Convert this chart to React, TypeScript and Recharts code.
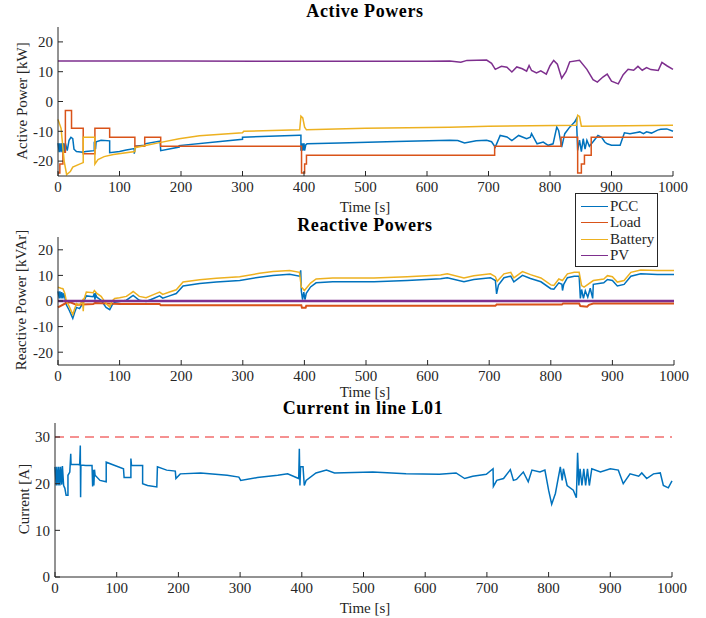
import { LineChart, Line, XAxis, YAxis, ReferenceLine } from 'recharts';

type Pt = [number, number];

const timeTicks = [0, 100, 200, 300, 400, 500, 600, 700, 800, 900, 1000];
const powerTicks = [-20, -10, 0, 10, 20];
const currentTicks = [0, 10, 20, 30];
const currentLimit = 30;

// Active powers [kW]
const pccP: Pt[] = [
  [0, -14], [2, -17], [3, -14], [5, -17], [6, -14], [8, -17], [9, -14], [11, -17], [12, -14], [15, -16.5],
  [18, -13], [21, -12], [24, -12.5], [26, -16], [30, -16.8], [40, -17], [45, -16.8], [59, -16.5], [59, -13.5],
  [61, -16], [62, -13.5], [70, -13], [84, -13.2], [84, -17.2], [100, -16.8], [111, -16.3], [124, -15.8],
  [124, -17.5], [126, -15], [141, -14.7], [141, -14.2], [166, -13.3], [167, -16.5], [197, -15.3], [197, -14.8],
  [300, -12.7], [300, -12], [393, -11.3], [395, -11.3], [395, -16.5], [397, -14], [398, -16.5], [400, -14],
  [401, -16.5], [403, -14.5], [405, -14.2], [458, -13.9], [550, -13.4], [637, -13], [650, -13.1], [661, -13.9],
  [680, -13.2], [697, -13], [705, -13.5], [711, -15.3], [719, -11.4], [730, -11.9], [738, -13.1], [749, -11.4],
  [762, -12.5], [768, -12], [770, -10.8], [779, -14.2], [789, -13.6], [797, -14.7], [805, -14.2], [811, -8.6],
  [814, -9.7], [819, -15.3], [824, -10.8], [832, -8.6], [840, -6.9], [843, -5.8], [845, -16.4], [848, -13],
  [851, -16.8], [854, -12.5], [857, -16], [860, -13], [864, -15], [870, -13.5], [878, -11.4], [884, -12],
  [889, -13.6], [893, -14.2], [900, -14.7], [914, -14.7], [921, -10.5], [930, -10.8], [941, -10.4], [946, -10.2],
  [952, -10.8], [957, -10.2], [965, -10.6], [975, -9.6], [980, -9.3], [990, -9.2], [1000, -10],
];

const loadP: Pt[] = [
  [0, -24], [3, -24], [3, -21], [8, -21], [8, -17], [12, -17], [12, -3], [22, -3], [22, -9], [41, -9],
  [41, -17.5], [60, -17.5], [60, -9], [84, -9], [84, -12], [125, -12], [125, -15], [141, -15], [141, -12],
  [167, -12], [167, -15], [396, -15], [396, -24], [401, -24], [401, -21], [404, -21], [404, -18], [710, -18],
  [710, -15], [818, -15], [818, -12], [845, -12], [845, -24], [851, -24], [851, -21], [856, -21], [856, -18],
  [867, -18], [867, -12], [1000, -12],
];

const batteryP: Pt[] = [
  [0, -6], [5, -9], [10, -20], [14, -24.5], [20, -23.5], [24, -22], [35, -21], [41, -20.5], [41, -12], [60, -12],
  [60, -21], [65, -19.5], [75, -18.5], [90, -17.8], [125, -16.8], [125, -15.5], [165, -13.8], [197, -12.5],
  [230, -11.5], [300, -10.5], [302, -10], [393, -9.5], [395, -4.9], [398, -5.5], [401, -8.6], [404, -9.5],
  [500, -9], [637, -8.6], [700, -8.3], [843, -8], [845, -4.6], [848, -5], [851, -8.3], [1000, -8],
];

const pvP: Pt[] = [
  [0, 13.6], [200, 13.6], [400, 13.5], [600, 13.5], [637, 13.6], [655, 13.2], [665, 13.8], [697, 13.9],
  [705, 12.8], [711, 10.8], [721, 11.8], [730, 11.5], [738, 9.9], [746, 11.6], [755, 11], [762, 10.2],
  [766, 12.1], [770, 10.4], [778, 9.6], [785, 10.3], [794, 9.2], [800, 12], [806, 13.8], [812, 12.5],
  [819, 7.8], [826, 10], [832, 13.3], [848, 13.8], [860, 10.8], [870, 7.3], [877, 6.5], [886, 8.2], [893, 9.2],
  [900, 6.8], [911, 5.9], [919, 9], [927, 10.8], [936, 10.5], [943, 11.8], [950, 10.5], [957, 11.4], [964, 10.7],
  [976, 10.4], [982, 13.1], [990, 12], [1000, 10.8],
];

// Reactive powers [kVAr]
const pccQ: Pt[] = [
  [0, 3.8], [2, 1], [3, 3.8], [5, 1], [6, 3.5], [8, 1], [9, 3], [11, 1.5], [13.5, -1.5], [18, -3.5], [24, -6.8],
  [27, -4.5], [30, -2.5], [35, -3], [40, -1], [46, 2], [57, 1.7], [59, 3], [60, 0.5], [61, 2.6], [63, 1.5],
  [70, 0.3], [78, -2.5], [84, -3.4], [88, -1.5], [92, -0.5], [100, -0.2], [111, 0.3], [118, 1.5], [122, 2.2],
  [132, 0.3], [143, -0.2], [155, 1], [165, 2], [170, 1.1], [181, 2], [192, 2.9], [203, 5.9], [230, 6.8],
  [257, 7.4], [295, 8], [327, 9.3], [349, 10], [376, 10.4], [392, 9.7], [394, 12], [395, 3.9], [397, 0.5],
  [399, 3.5], [401, 0.5], [403, 3], [410, 5.5], [419, 7.1], [446, 7.5], [513, 7.5], [567, 8], [621, 8.7],
  [632, 9.1], [659, 7.5], [675, 8.4], [702, 9.1], [710, 8], [712, 2.8], [715, 6.2], [724, 9.1], [735, 9.7],
  [740, 7.5], [754, 10], [767, 8.8], [784, 7.5], [800, 4.8], [805, 4.6], [813, 7.1], [818, 6.5], [819, 4.1],
  [821, 6.5], [827, 9.1], [838, 9.7], [846, 9.7], [848, 1], [850, 4.5], [853, 1], [856, 4], [860, 1.5],
  [864, 5], [868, 1], [869, 6.5], [886, 7.1], [892, 8.4], [900, 8], [908, 5.9], [919, 6.5], [930, 9.7],
  [946, 10.6], [973, 10.4], [1000, 10.4],
];

const loadQ: Pt[] = [
  [0, -2.5], [13, -0.8], [20, -0.5], [30, -1.5], [57, -1.2], [60, -0.8], [100, -1.2], [165, -1.2], [167, -1.7],
  [395, -1.7], [396, -2.6], [402, -2.6], [403, -1.9], [710, -1.9], [712, -1.4], [818, -1.4], [820, -1],
  [846, -1], [848, -2], [859, -2.2], [862, -1.5], [869, -1], [1000, -1],
];

const batteryQ: Pt[] = [
  [0, 5.4], [5, 5], [8, 4.8], [11, 3], [13.5, 0], [18, -2], [24, -5.3], [27, -3], [30, -1], [35, -1.6],
  [40, 0.3], [41, -4], [42, 0.5], [46, 3.5], [57, 3.2], [59, 4.1], [63, 3], [70, 1.8], [78, -1], [84, -2.3],
  [88, 0], [92, 1], [100, 1.3], [111, 1.8], [118, 3], [122, 3.7], [132, 1.8], [143, 1.3], [155, 2.5],
  [165, 3.5], [170, 2.6], [181, 3.5], [192, 4.4], [203, 7.4], [230, 8.3], [257, 8.9], [295, 9.5], [327, 10.8],
  [349, 11.5], [376, 11.9], [392, 11.2], [395, 5.4], [397, 5], [400, 4.1], [410, 7], [419, 8.6], [446, 9],
  [513, 9], [567, 9.5], [621, 10.2], [632, 10.6], [659, 9], [675, 9.9], [702, 10.6], [710, 9.5], [713, 7.7],
  [724, 10.6], [735, 11.2], [740, 9], [754, 11.5], [767, 10.3], [784, 9], [800, 6.3], [805, 6.1], [813, 8.6],
  [819, 8], [827, 10.6], [838, 11.2], [846, 11.2], [850, 6], [854, 5.4], [869, 8], [886, 8.6], [892, 9.9],
  [900, 9.5], [908, 7.4], [919, 8], [930, 11.2], [946, 12.1], [973, 11.9], [1000, 11.9],
];

const pvQ: Pt[] = [[0, 0], [250, 0], [500, 0], [750, 0], [1000, 0]];

// Current in line L01 [A]
const lineCurrent: Pt[] = [
  [0, 23.6], [2, 19.6], [3, 23.6], [5, 19.6], [6, 23.6], [8, 19.6], [9, 23.6], [11, 19.8], [12, 23.8],
  [14, 19.6], [16, 19], [18, 17.5], [21, 17.5], [21, 21.8], [24, 22.5], [25.5, 26.4], [26, 24.1], [38, 24.1],
  [40, 24], [41, 28.2], [41.5, 17.1], [42, 24], [50, 23.9], [60, 23.9], [61, 19.4], [62, 23], [63, 19.6],
  [64, 23], [65, 21.8], [73, 20.7], [83, 20.4], [83, 24.6], [97, 23.9], [111, 23.2], [112, 21.3], [123, 21.3],
  [123, 25.4], [124, 23.9], [142, 23.9], [142, 20], [150, 19.6], [165, 19.3], [166, 23.6], [181, 22.9],
  [195, 22.7], [196, 21.1], [203, 22.1], [236, 22.3], [279, 21.8], [298, 21.4], [301, 20.7], [328, 21.3],
  [361, 21.8], [377, 22.1], [395, 21.1], [396, 27.5], [397, 19.6], [398, 23.6], [402, 23.6], [404, 19.6],
  [407, 20.7], [423, 22.3], [440, 22.9], [453, 22.3], [515, 22.5], [569, 22.1], [623, 22], [650, 22.3],
  [664, 21.1], [677, 21.6], [699, 22], [710, 23.2], [710.5, 19.4], [716, 20.7], [727, 21.1], [738, 23],
  [743, 20.7], [748, 20.9], [759, 22.5], [767, 20.4], [773, 22.9], [786, 22.5], [794, 22.9], [800, 18.6],
  [805, 15.6], [811, 17.9], [819, 23.6], [822, 20.7], [824, 23.2], [830, 19.6], [840, 18.6], [845, 17],
  [847, 26.6], [849, 19.6], [851, 23.2], [854, 19.6], [857, 23.2], [860, 19.6], [863, 23.2], [866, 19.6],
  [870, 23.2], [884, 22.5], [900, 23.2], [913, 22.9], [921, 20], [932, 22.1], [946, 21.6], [951, 22.3],
  [959, 21.1], [970, 22.1], [981, 22.3], [986, 19.6], [994, 19.1], [1000, 20.6],
];

const seriesNames = ['PCC', 'Load', 'Battery', 'PV'];
const seriesColors = ['#0072BD', '#D95319', '#EDB120', '#7E2F8E'];

const FONT = '"Liberation Serif", "DejaVu Serif", serif';
const AX = '#262626';

const toRows = (pts: Pt[]) => pts.map(([t, v]) => ({ t, v }));

interface PanelProps {
  top: number;
  height: number;
  plotTop: number;
  plotBottom: number;
  plotLeft: number;
  plotRight: number;
  yDomain: [number, number];
  yTicks: number[];
  series: { data: Pt[]; color: string; width?: number }[];
  limit?: number;
}

const Panel = ({ top, height, plotTop, plotBottom, plotLeft, plotRight, yDomain, yTicks, series, limit }: PanelProps) => {
  const tickStyle = { fill: AX, fontSize: 15, fontFamily: FONT };
  return (
    <div style={{ position: 'absolute', left: 0, top }}>
      <LineChart
        width={706}
        height={height}
        margin={{ top: plotTop - top, right: 706 - plotRight, left: 0, bottom: 0 }}
      >
        <XAxis
          dataKey="t"
          type="number"
          domain={[0, 1000]}
          ticks={timeTicks}
          interval={0}
          height={top + height - plotBottom}
          stroke={AX}
          tickSize={-5}
          tickMargin={10}
          tick={tickStyle}
        />
        <XAxis
          xAxisId="top"
          orientation="top"
          dataKey="t"
          type="number"
          domain={[0, 1000]}
          ticks={timeTicks}
          height={0}
          stroke={AX}
          tickSize={-5}
          tick={false}
        />
        <YAxis
          type="number"
          domain={yDomain}
          ticks={yTicks}
          interval={0}
          width={plotLeft}
          stroke={AX}
          tickSize={-5}
          tickMargin={10}
          tick={tickStyle}
        />
        <YAxis
          yAxisId="right"
          orientation="right"
          type="number"
          domain={yDomain}
          ticks={yTicks}
          width={0}
          stroke={AX}
          tickSize={-5}
          tick={false}
        />
        {series.map((s, i) => (
          <Line
            key={i}
            data={toRows(s.data)}
            dataKey="v"
            type="linear"
            stroke={s.color}
            strokeWidth={s.width ?? 1.5}
            dot={false}
            isAnimationActive={false}
          />
        ))}
        {limit !== undefined && (
          <ReferenceLine y={limit} stroke="#F26D6D" strokeWidth={1.5} strokeDasharray="9 6" />
        )}
      </LineChart>
    </div>
  );
};

const Text = ({ x, y, children, bold, rotate }: { x: number; y: number; children: string; bold?: boolean; rotate?: boolean }) => (
  <div
    style={{
      position: 'absolute',
      left: x,
      top: y,
      transform: `translate(-50%, -50%)${rotate ? ' rotate(-90deg)' : ''}`,
      whiteSpace: 'nowrap',
      fontFamily: FONT,
      fontSize: bold ? 18 : 15,
      letterSpacing: bold ? 0.6 : 0,
      fontWeight: bold ? 'bold' : 'normal',
      color: bold ? '#000' : AX,
      lineHeight: 1,
    }}
  >
    {children}
  </div>
);

export default function App() {
  return (
    <div style={{ position: 'absolute', left: 0, top: 0, width: 706, height: 618, background: '#fff' }}>
      <Panel
        top={0}
        height={200}
        plotTop={27}
        plotBottom={176}
        plotLeft={58}
        plotRight={673}
        yDomain={[-25, 25]}
        yTicks={powerTicks}
        series={[
          { data: pccP, color: seriesColors[0] },
          { data: loadP, color: seriesColors[1] },
          { data: batteryP, color: seriesColors[2] },
          { data: pvP, color: seriesColors[3] },
        ]}
      />
      <Panel
        top={200}
        height={190}
        plotTop={237}
        plotBottom={365}
        plotLeft={58}
        plotRight={674}
        yDomain={[-25, 25]}
        yTicks={powerTicks}
        series={[
          { data: pccQ, color: seriesColors[0] },
          { data: loadQ, color: seriesColors[1], width: 2 },
          { data: batteryQ, color: seriesColors[2] },
          { data: pvQ, color: seriesColors[3], width: 2.5 },
        ]}
      />
      <Panel
        top={395}
        height={205}
        plotTop={423}
        plotBottom={577}
        plotLeft={55}
        plotRight={672}
        yDomain={[0, 33]}
        yTicks={currentTicks}
        series={[{ data: lineCurrent, color: seriesColors[0] }]}
        limit={currentLimit}
      />

      <Text x={365} y={11} bold>Active Powers</Text>
      <Text x={365} y={225} bold>Reactive Powers</Text>
      <Text x={363} y={408} bold>Current in line L01</Text>

      <Text x={365} y={207}>Time [s]</Text>
      <Text x={365} y={392}>Time [s]</Text>
      <Text x={365} y={608}>Time [s]</Text>

      <Text x={22} y={101} rotate>Active Power [kW]</Text>
      <Text x={21} y={300} rotate>Reactive Power [kVAr]</Text>
      <Text x={24} y={499} rotate>Current [A]</Text>

      <div
        style={{
          position: 'absolute',
          left: 575,
          top: 193,
          width: 81,
          height: 72,
          border: `1px solid ${AX}`,
          background: '#fff',
          fontFamily: FONT,
          fontSize: 15,
          color: AX,
        }}
      >
        {seriesNames.map((name, i) => (
          <div key={name} style={{ position: 'absolute', left: 0, top: 4 + i * 16.5, height: 16, display: 'flex', alignItems: 'center' }}>
            <div style={{ width: 27, height: 0, marginLeft: 5, borderTop: `1.5px solid ${seriesColors[i]}` }} />
            <span style={{ marginLeft: 2, lineHeight: 1 }}>{name}</span>
          </div>
        ))}
      </div>
    </div>
  );
}
